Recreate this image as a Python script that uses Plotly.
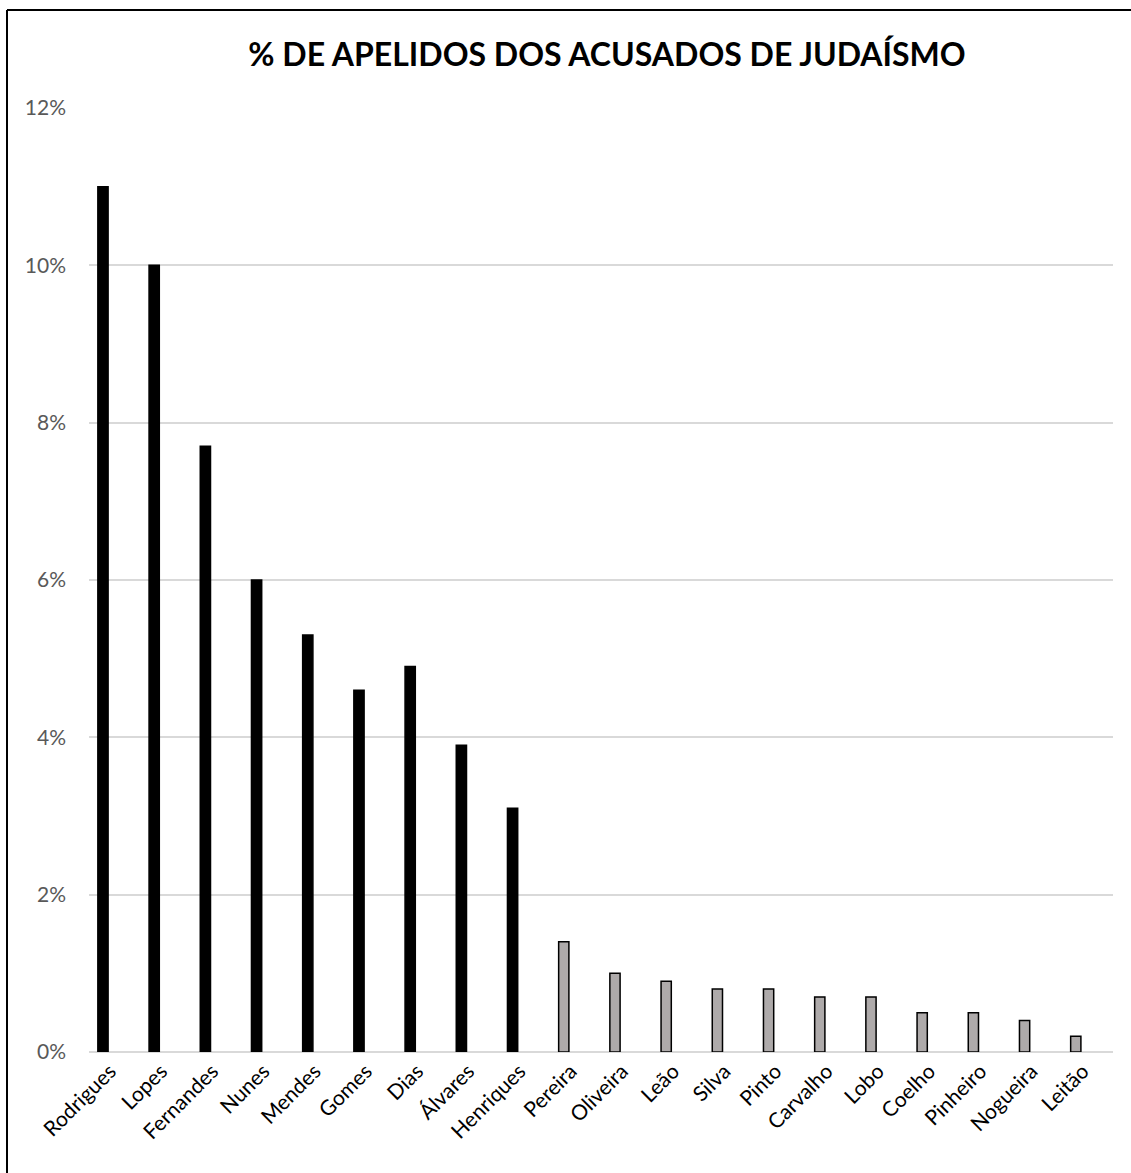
import plotly.graph_objects as go

categories = ["Rodrigues", "Lopes", "Fernandes", "Nunes", "Mendes", "Gomes", "Dias",
              "Álvares", "Henriques", "Pereira", "Oliveira", "Leão", "Silva", "Pinto",
              "Carvalho", "Lobo", "Coelho", "Pinheiro", "Nogueira", "Leitão"]
values = [11.0, 10.0, 7.7, 6.0, 5.3, 4.6, 4.9, 3.9, 3.1,
          1.4, 1.0, 0.9, 0.8, 0.8, 0.7, 0.7, 0.5, 0.5, 0.4, 0.2]
highlighted_count = 9
y_ticks = [0, 2, 4, 6, 8, 10, 12]
y_tick_labels = ["0%", "2%", "4%", "6%", "8%", "10%", "12%"]
title_text = "% DE APELIDOS DOS ACUSADOS DE JUDAÍSMO"

W, H = 1131, 1173
ml, mr, mt, mb = 89, 18, 108, 121
pw, ph = W - ml - mr, H - mt - mb

colors = ["#000000" if i < highlighted_count else "#aeaaaa" for i in range(len(categories))]

fig = go.Figure()
fig.add_trace(go.Bar(
    x=categories, y=values, width=0.2,
    marker=dict(color=colors, line=dict(color="#000000", width=1.5)),
))

def px_x(p):
    return (p - ml) / pw

def px_y(p):
    return 1 - (p - mt) / ph

shapes = [
    dict(type="line", xref="paper", yref="paper", x0=px_x(7), x1=px_x(1140),
         y0=px_y(10), y1=px_y(10), line=dict(color="#000000", width=2)),
    dict(type="line", xref="paper", yref="paper", x0=px_x(7), x1=px_x(7),
         y0=px_y(10), y1=px_y(1180), line=dict(color="#000000", width=2)),
]

fig.update_layout(
    width=W, height=H,
    margin=dict(l=ml, r=mr, t=mt, b=mb, pad=0),
    paper_bgcolor="white", plot_bgcolor="white",
    showlegend=False,
    title=dict(text="<b>" + title_text + "</b>", xref="container", x=607 / W,
               xanchor="center", y=1 - 55 / H, yanchor="middle",
               font=dict(family="Lato, Open Sans, sans-serif", size=32, color="#000000")),
    xaxis=dict(range=[-0.273, 19.727], tickangle=-45, showgrid=False, showline=False,
               zeroline=False, ticks="", ticklabelshift=7, ticklabelstandoff=2,
               tickfont=dict(family="Lato, Open Sans, sans-serif", size=21, color="#000000")),
    yaxis=dict(range=[0, 12], tickvals=y_ticks, ticktext=y_tick_labels, showgrid=True,
               gridcolor="#d9d9d9", gridwidth=1.5, zeroline=True, zerolinecolor="#d9d9d9",
               zerolinewidth=2, showline=False, ticks="", ticklabelstandoff=22,
               tickfont=dict(family="Lato, Open Sans, sans-serif", size=21, color="#595959")),
    shapes=shapes,
)

fig.write_html("out.html")
